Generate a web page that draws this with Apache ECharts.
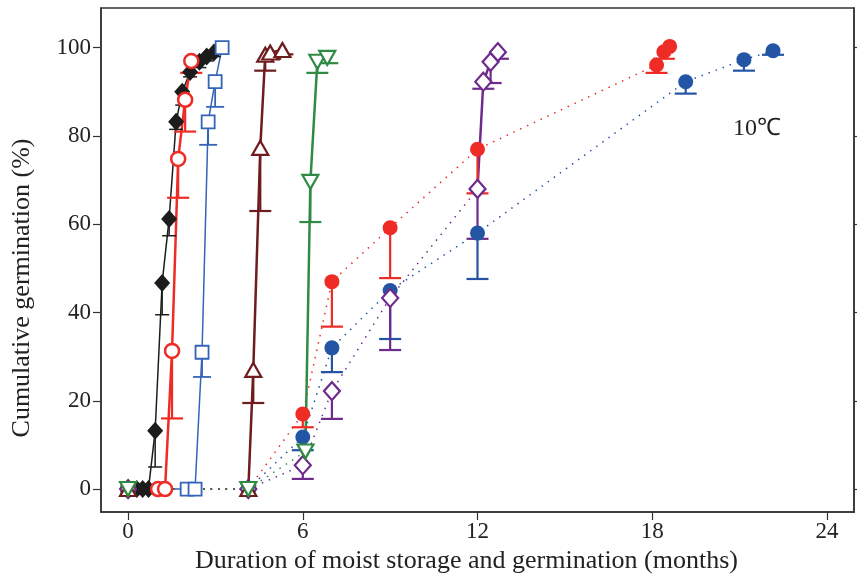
<!DOCTYPE html>
<html>
<head>
<meta charset="utf-8">
<script src="https://cdn.jsdelivr.net/npm/echarts@6/dist/echarts.min.js"></script>
<style>html,body{margin:0;padding:0;background:#fff}#c{width:857px;height:577px}</style>
</head>
<body>
<div id="c"></div>
<script>
// ---- data ----
var xTicks = [0, 6, 12, 18, 24];
var yTicks = [0, 20, 40, 60, 80, 100];

var blackX = [0, 0.3, 0.5, 0.7, 0.93, 1.17, 1.41, 1.65, 1.86, 2.13, 2.45, 2.7, 2.95];
var blackY = [0, 0, 0, 0, 13.2, 46.7, 61.2, 83.2, 90, 94.5, 96.8, 98, 98.9];
var blackLo = [null, null, null, null, 5, 39.5, 57.4, 81.5, 87, 93.4, 95.5, 97, 98];

var redOX = [0, 1.03, 1.27, 1.51, 1.72, 1.96, 2.17];
var redOY = [0, 0, 0, 31.3, 74.8, 88.2, 97];
var redOLo = [null, null, null, 16, 66, 81, 94.3];

var blueSX = [0, 2.03, 2.3, 2.54, 2.75, 2.99, 3.23];
var blueSY = [0, 0, 0, 31, 83.2, 92.3, 100];
var blueSLo = [null, null, null, 25.4, 78, 86.6, null];

var brownX = [0, 4.13, 4.3, 4.54, 4.71, 4.88, 5.3];
var brownY = [0, 0, 27, 77.3, 98.4, 98.9, 99.5];
var brownLo = [null, null, 19.5, 63, 94.8, 97.5, 98.5];

var greenX = [0, 4.13, 6.09, 6.26, 6.5, 6.84];
var greenY = [0, 0, 8.5, 69.6, 96.8, 97.7];
var greenLo = [null, null, null, 60.5, 94.3, 96.5];
var greenSolidFrom = 2;

var purpleX = [0, 4.13, 6, 7, 9, 12, 12.2, 12.45, 12.7];
var purpleY = [0, 0, 5.4, 22.2, 43.3, 68, 92.3, 96.8, 99];
var purpleLo = [null, null, 2.3, 15.9, 31.5, 56.7, 90.7, 92.0, 97.5];
var purpleSolidFrom = 5;

var redFX = [0, 4.13, 6, 7, 9, 12, 18.15, 18.4, 18.6];
var redFY = [0, 0, 17, 47, 59.2, 77, 96.1, 99.1, 100.3];
var redFLo = [null, null, 14, 36.8, 47.8, 67, 94.3, 97.5, null];

var blueFX = [0, 4.13, 6, 7, 9, 12, 19.15, 21.15, 22.15];
var blueFY = [0, 0, 11.8, 32, 45, 58, 92.3, 97.3, 99.3];
var blueFLo = [null, null, 8.8, 26.5, 34, 47.6, 89.6, 94.8, 98.4];

// ---- helpers ----
function pts(xs, ys) { return xs.map(function (x, i) { return [x, ys[i]]; }); }
function errData(xs, ys, lo) {
  var out = [];
  xs.forEach(function (x, i) { if (lo[i] != null) out.push([x, ys[i], lo[i]]); });
  return out;
}
function errSeries(xs, ys, lo, color, capW, lw) {
  return {
    type: 'custom', z: 3,
    data: errData(xs, ys, lo),
    renderItem: function (params, api) {
      var top = api.coord([api.value(0), api.value(1)]);
      var bot = api.coord([api.value(0), api.value(2)]);
      return {
        type: 'group',
        children: [
          { type: 'line', shape: { x1: top[0], y1: top[1], x2: bot[0], y2: bot[1] }, style: { stroke: color, lineWidth: lw } },
          { type: 'line', shape: { x1: bot[0] - capW / 2, y1: bot[1], x2: bot[0] + capW / 2, y2: bot[1] }, style: { stroke: color, lineWidth: lw } }
        ]
      };
    }
  };
}
function lineSeries(data, color, width, dotted) {
  return {
    type: 'line', data: data, showSymbol: false, symbol: 'none', z: 2, silent: true,
    lineStyle: { color: color, width: width, type: dotted ? [1.5, 6] : 'solid' }
  };
}
function markerSeries(data, color, symbol, size, filled, bw, rot) {
  return {
    type: 'scatter', data: data, symbol: symbol, symbolSize: size, symbolRotate: rot || 0, z: 5,
    itemStyle: { color: filled ? color : '#ffffff', borderColor: color, borderWidth: filled ? 0 : bw, opacity: 1 }
  };
}

var cBlack = '#1c1c1c', cRed = '#ee2b25', cBlueS = '#3563b8', cBrown = '#6e1c1e',
    cGreen = '#2f8a43', cPurple = '#6e2a8c', cBlueF = '#2455a4';

var series = [];
// black
series.push(lineSeries(pts(blackX, blackY), cBlack, 1.5, false));
series.push(errSeries(blackX, blackY, blackLo, cBlack, 14, 1.5));
series.push(markerSeries(pts(blackX, blackY), cBlack, 'diamond', [16, 18], true, 0));
// red open
series.push(lineSeries(pts(redOX, redOY), cRed, 2.5, false));
series.push(errSeries(redOX, redOY, redOLo, cRed, 22, 2.2));
series.push(markerSeries(pts(redOX, redOY), cRed, 'circle', 14, false, 2.5));
// blue squares
series.push(lineSeries(pts(blueSX, blueSY), cBlueS, 1.5, false));
series.push(errSeries(blueSX, blueSY, blueSLo, cBlueS, 18, 1.8));
series.push(markerSeries(pts(blueSX, blueSY), cBlueS, 'rect', 13, false, 1.8));
// red filled (dotted)
series.push(lineSeries(pts(redFX, redFY), cRed, 1.5, true));
series.push(errSeries(redFX, redFY, redFLo, cRed, 22, 2.2));
series.push(markerSeries(pts(redFX, redFY), cRed, 'circle', 15, true, 0));
// blue filled (dotted)
series.push(lineSeries(pts(blueFX, blueFY), cBlueF, 1.5, true));
series.push(errSeries(blueFX, blueFY, blueFLo, cBlueF, 22, 2.2));
series.push(markerSeries(pts(blueFX, blueFY), cBlueF, 'circle', 15, true, 0));
// purple
series.push(lineSeries(pts(purpleX.slice(0, purpleSolidFrom + 1), purpleY.slice(0, purpleSolidFrom + 1)), cPurple, 1.5, true));
series.push(lineSeries(pts(purpleX.slice(purpleSolidFrom), purpleY.slice(purpleSolidFrom)), cPurple, 2.5, false));
series.push(errSeries(purpleX, purpleY, purpleLo, cPurple, 22, 2.2));
series.push(markerSeries(pts(purpleX, purpleY), cPurple, 'diamond', [16, 18], false, 2.2));
// brown
series.push(lineSeries(pts(brownX.slice(0, 2), brownY.slice(0, 2)), cBrown, 1.5, true));
series.push(lineSeries(pts(brownX.slice(1), brownY.slice(1)), cBrown, 2.5, false));
series.push(errSeries(brownX, brownY, brownLo, cBrown, 22, 2.2));
series.push(markerSeries(pts(brownX, brownY), cBrown, 'triangle', [16, 14], false, 2.2));
// green
series.push(lineSeries(pts(greenX.slice(0, greenSolidFrom + 1), greenY.slice(0, greenSolidFrom + 1)), cGreen, 1.5, true));
series.push(lineSeries(pts(greenX.slice(greenSolidFrom), greenY.slice(greenSolidFrom)), cGreen, 2.5, false));
series.push(errSeries(greenX, greenY, greenLo, cGreen, 22, 2.2));
series.push(markerSeries(pts(greenX, greenY), cGreen, 'triangle', [16, 14], false, 2.2, 180));

var font = 'Liberation Serif';
var axisCol = '#333333';
var chart = echarts.init(document.getElementById('c'), null, { renderer: 'canvas' });
chart.setOption({
  animation: false,
  backgroundColor: '#ffffff',
  grid: { left: 101, right: 3, top: 8, bottom: 65, show: true, borderColor: axisCol, borderWidth: 1.5,
          backgroundColor: 'transparent', outerBoundsMode: 'none', containLabel: false },
  xAxis: {
    type: 'value', min: -0.93, max: 24.93,
    name: 'Duration of moist storage and germination (months)', nameLocation: 'middle', nameGap: 31,
    nameTextStyle: { fontFamily: font, fontSize: 26, color: '#222', padding: [0, 22, 0, 0] },
    axisLine: { show: true, onZero: false, lineStyle: { color: axisCol, width: 1.5 } },
    axisTick: { show: true, inside: false, length: 8, customValues: xTicks, lineStyle: { color: axisCol, width: 1.2 } },
    axisLabel: { customValues: xTicks, fontFamily: font, fontSize: 23, color: '#222', margin: 8 },
    splitLine: { show: false }
  },
  yAxis: [{
    type: 'value', min: -5.2, max: 109,
    name: 'Cumulative germination (%)', nameLocation: 'middle', nameGap: 66, nameRotate: 90,
    nameTextStyle: { fontFamily: font, fontSize: 26, color: '#222', padding: [0, 56, 0, 0] },
    axisLine: { show: true, onZero: false, lineStyle: { color: axisCol, width: 1.5 } },
    axisTick: { show: true, inside: false, length: 8, customValues: yTicks, lineStyle: { color: axisCol, width: 1.2 } },
    axisLabel: { customValues: yTicks, fontFamily: font, fontSize: 23, color: '#222', margin: 10 },
    splitLine: { show: false }
  }, {
    type: 'value', min: -5.2, max: 109, position: 'right',
    axisLine: { show: true, onZero: false, lineStyle: { color: axisCol, width: 1.5 } },
    axisTick: { show: true, inside: false, length: 6, customValues: yTicks, lineStyle: { color: axisCol, width: 1.2 } },
    axisLabel: { show: false },
    splitLine: { show: false }
  }],
  graphic: [{
    type: 'text', left: 733, top: 117,
    style: { text: '10℃', fontFamily: font, fontSize: 24, fill: '#222' }
  }],
  series: series
});
</script>
</body>
</html>
